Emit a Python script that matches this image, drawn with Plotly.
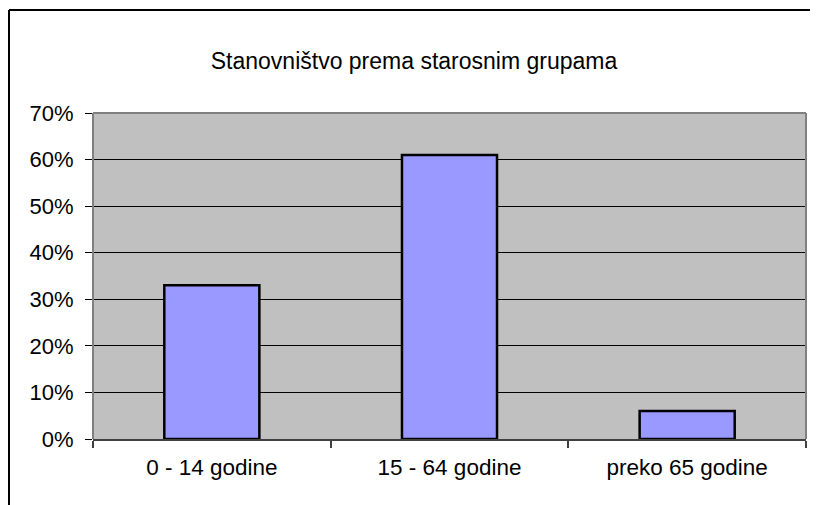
import plotly.graph_objects as go

categories = ['0 - 14 godine', '15 - 64 godine', 'preko 65 godine']
shares = [0.33, 0.61, 0.06]
title_text = 'Stanovništvo prema starosnim grupama'

# page has an 8px body margin, so the figure sits at (8, 8)
OFF = 8
W, H = 810, 497
L, R, T, B = 85, 12, 105, 66
pw, ph = W - L - R, H - T - B


def px_x(x):
    return (x - L) / pw


def px_y(y):
    return (H - B - y) / ph


font_family = 'Liberation Sans, Arial, sans-serif'
gray_border = '#808080'
dark_axis = '#404040'

fig = go.Figure()
fig.add_trace(go.Bar(
    x=categories,
    y=shares,
    marker=dict(color='#9999FF', line=dict(color='black', width=2.5)),
    hoverinfo='x+y',
))

shapes = [
    # plot area border (left, top, right)
    dict(type='line', xref='paper', yref='paper', x0=0, x1=0, y0=0, y1=1,
         line=dict(color=gray_border, width=2), layer='above'),
    dict(type='line', xref='paper', yref='paper', x0=0, x1=1, y0=1, y1=1,
         line=dict(color=gray_border, width=2), layer='above'),
    dict(type='line', xref='paper', yref='paper', x0=1, x1=1, y0=0, y1=1,
         line=dict(color=gray_border, width=2), layer='above'),
    # outer chart frame (top and left only visible)
    dict(type='line', xref='paper', yref='paper', x0=px_x(1), x1=px_x(W + 2),
         y0=px_y(2), y1=px_y(2), line=dict(color='black', width=2)),
    dict(type='line', xref='paper', yref='paper', x0=px_x(1), x1=px_x(1),
         y0=px_y(2), y1=px_y(H + 2), line=dict(color='black', width=2)),
]

fig.update_layout(
    width=W,
    height=H,
    margin=dict(l=L, r=R, t=T, b=B, autoexpand=False),
    paper_bgcolor='white',
    plot_bgcolor='#C0C0C0',
    showlegend=False,
    bargap=0.6,
    font=dict(family=font_family, size=22, color='black'),
    title=dict(text=title_text, x=(414 - OFF) / W, xref='container', xanchor='center',
               y=1 - (61 - OFF) / H, yref='container', yanchor='middle',
               font=dict(family=font_family, size=23, color='black')),
    xaxis=dict(
        type='category',
        showgrid=False,
        showline=True,
        linecolor=dark_axis,
        linewidth=2,
        ticks='outside',
        tickson='boundaries',
        ticklen=7,
        tickwidth=2,
        tickcolor=dark_axis,
        ticklabelstandoff=7,
        tickfont=dict(family=font_family, size=22.5, color='black'),
    ),
    yaxis=dict(
        range=[0, 0.7],
        dtick=0.1,
        tick0=0,
        tickformat='.0%',
        showgrid=True,
        gridcolor='black',
        gridwidth=1,
        zeroline=False,
        showline=False,
        ticks='outside',
        ticklen=7,
        tickwidth=1,
        tickcolor='black',
        ticklabelstandoff=7,
        tickfont=dict(family=font_family, size=22, color='black'),
    ),
    shapes=shapes,
)

fig.write_html('out.html')
